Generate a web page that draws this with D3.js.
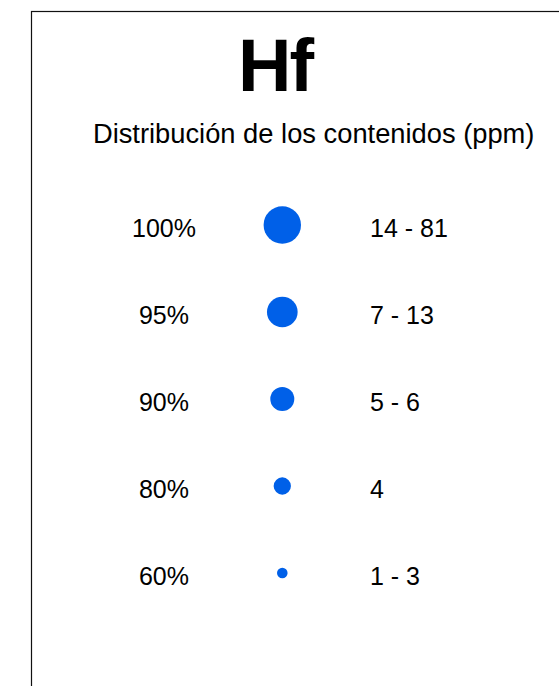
<!DOCTYPE html>
<html>
<head>
<meta charset="utf-8">
<script src="https://cdn.jsdelivr.net/npm/d3@7"></script>
<style>
  html, body { margin: 0; padding: 0; background: #fff; }
  svg { display: block; }
  text { font-family: "Liberation Sans", Arial, sans-serif; fill: #000; }
</style>
</head>
<body>
<svg id="chart" width="559" height="686"></svg>
<script>
const element = "Hf";
const subtitle = "Distribución de los contenidos (ppm)";
const percentiles = ["100%", "95%", "90%", "80%", "60%"];
const ranges = ["14 - 81", "7 - 13", "5 - 6", "4", "1 - 3"];
const sizeClass = [5, 4, 3, 2, 1];

const svg = d3.select("#chart");
const W = 559, H = 686;

svg.append("rect")
  .attr("x", 31.5).attr("y", 11.5)
  .attr("width", W + 20).attr("height", H + 20)
  .attr("fill", "none").attr("stroke", "#111").attr("stroke-width", 1.2);

svg.append("text")
  .attr("x", 275).attr("y", 91)
  .attr("text-anchor", "middle")
  .style("font-size", "74px").style("font-weight", "bold")
  .style("letter-spacing", "-2px")
  .text(element);

svg.append("text")
  .attr("x", 313.7).attr("y", 143)
  .attr("text-anchor", "middle")
  .style("font-size", "27.3px")
  .text(subtitle);

const y = d3.scalePoint().domain(percentiles).range([225, 573]);
const r = d3.scaleLinear().domain([1, 5]).range([5.3, 18.7]);

const rows = percentiles.map((p, i) => ({ p, range: ranges[i], size: sizeClass[i] }));

const g = svg.append("g");
g.selectAll("circle").data(rows).join("circle")
  .attr("cx", 282.3)
  .attr("cy", d => y(d.p))
  .attr("r", d => r(d.size))
  .attr("fill", "#0060e8");

g.selectAll("text.pct").data(rows).join("text")
  .attr("class", "pct")
  .attr("x", 164)
  .attr("y", d => y(d.p) + 12.3)
  .attr("text-anchor", "middle")
  .style("font-size", "25px")
  .text(d => d.p);

g.selectAll("text.rng").data(rows).join("text")
  .attr("class", "rng")
  .attr("x", 370)
  .attr("y", d => y(d.p) + 12.3)
  .attr("text-anchor", "start")
  .style("font-size", "25px")
  .text(d => d.range);
</script>
</body>
</html>
